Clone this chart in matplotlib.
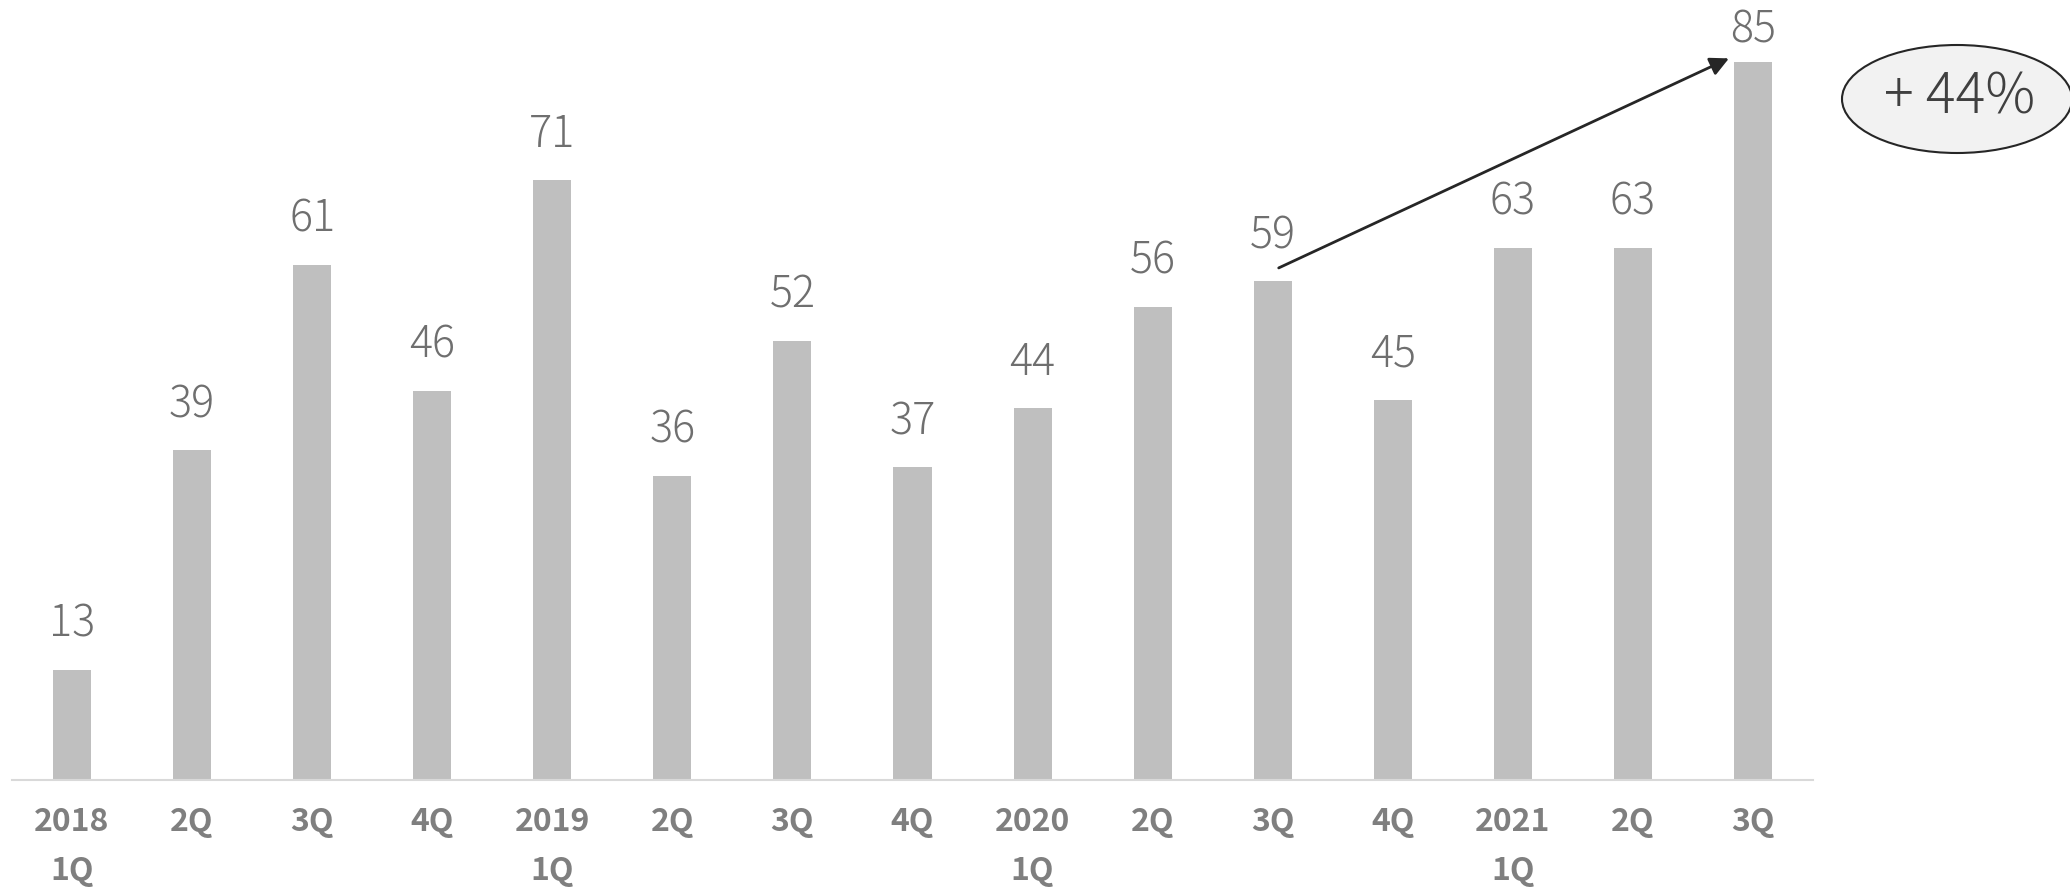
import matplotlib.pyplot as plt
from matplotlib.patches import Ellipse

plt.rcParams['font.family'] = ['Noto Sans CJK JP', 'DejaVu Sans']

quarters = ["2018\n1Q", "2Q", "3Q", "4Q", "2019\n1Q", "2Q", "3Q", "4Q",
            "2020\n1Q", "2Q", "3Q", "4Q", "2021\n1Q", "2Q", "3Q"]
values = [13, 39, 61, 46, 71, 36, 52, 37, 44, 56, 59, 45, 63, 63, 85]
growth_label = "+ 44%"

bar_color = "#bfbfbf"
label_color = "#6f6f6f"
tick_color = "#7f7f7f"

fig = plt.figure(figsize=(20.7, 8.9), dpi=100)
ax = fig.add_axes([12 / 2070, 110 / 890, 1801 / 2070, 760.5 / 890])

x = list(range(len(values)))
ax.bar(x, values, width=0.317, color=bar_color, zorder=2)
ax.set_xlim(-0.5, len(values) - 0.5)
ax.set_ylim(0, 90)

top = max(values)
for xi, v in zip(x, values):
    # the tallest label sits closer to its bar so it stays inside the figure
    off = 14 if v == top else 24
    ax.annotate(str(v), (xi, v), xytext=(0, off), textcoords="offset points",
                ha="center", va="baseline", fontsize=31, fontweight="light",
                color=label_color, annotation_clip=False)

ax.set_xticks(x)
ax.set_xticklabels(quarters, fontsize=23, fontweight="bold", color=tick_color,
                   linespacing=1.65, va="top")
ax.tick_params(axis="x", length=0, pad=19)
ax.set_yticks([])
for side in ["top", "right", "left"]:
    ax.spines[side].set_visible(False)
ax.spines["bottom"].set_color("#d9d9d9")
ax.spines["bottom"].set_linewidth(1.5)

# growth arrow from 2020 3Q to 2021 3Q
ax.annotate("", xy=(13.8, 85.4), xytext=(10.05, 60.6),
            arrowprops=dict(arrowstyle="-|>", color="#262626", lw=2,
                            mutation_scale=28, shrinkA=0, shrinkB=0),
            annotation_clip=False)

ell = Ellipse((1957 / 2070, 1 - 99 / 890), 230 / 2070, 108 / 890,
              transform=fig.transFigure, facecolor="#f2f2f2",
              edgecolor="#262626", lw=1.5)
fig.add_artist(ell)
fig.text(1960 / 2070, 1 - 97 / 890, growth_label, ha="center", va="center",
         fontsize=40, fontweight="light", color="#404040")

fig.savefig("out.png", dpi=100)
